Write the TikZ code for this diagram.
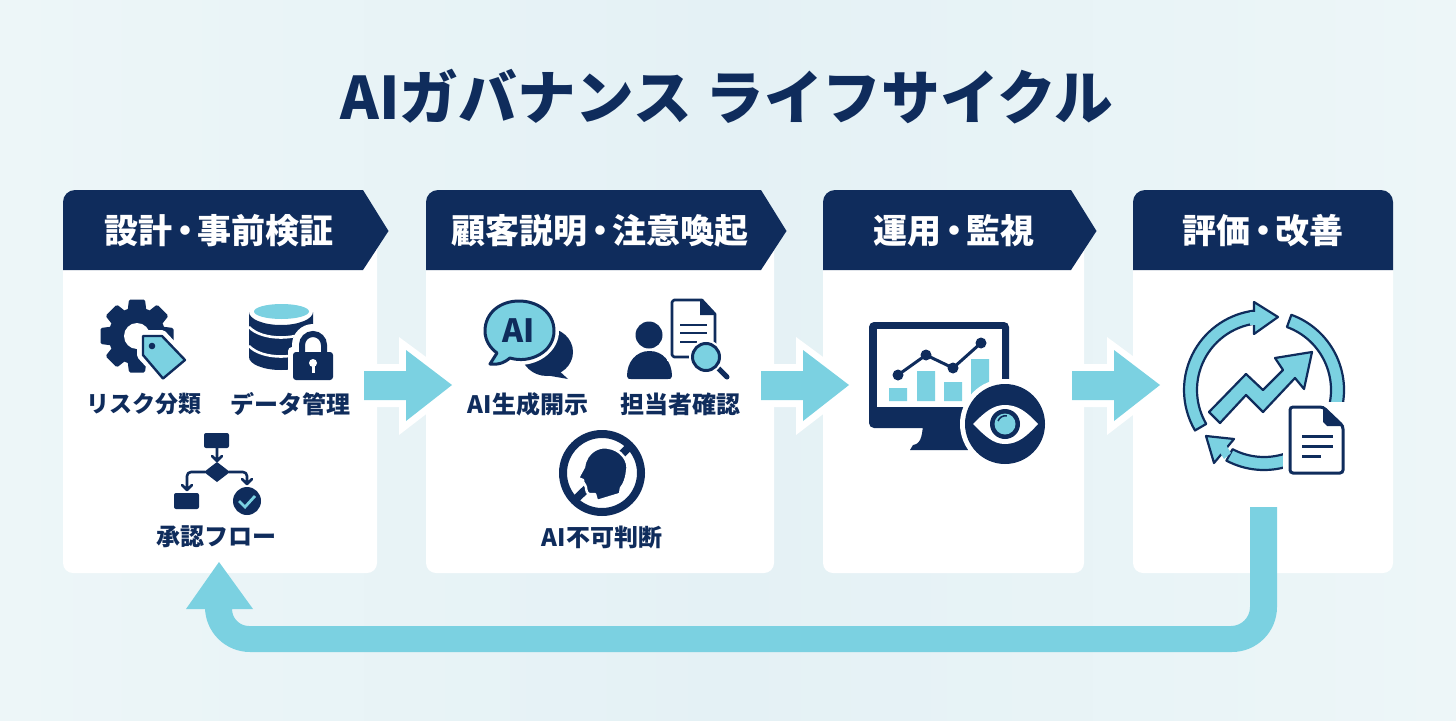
\documentclass[tikz,border=0pt]{standalone}
\usepackage{fontspec}
\setmainfont{Noto Sans CJK JP}
\usetikzlibrary{calc}
\definecolor{navy}{HTML}{0F2C5C}
\definecolor{cy}{HTML}{7BD1E1}
\definecolor{bgA}{HTML}{EDF6F8}
\definecolor{bgB}{HTML}{E4F1F5}
\newcommand{\dt}{\hspace{-.13em}・\hspace{-.13em}}
\tikzset{
  hd/.style={text=white,font=\fontsize{34}{34}\selectfont\bfseries,inner sep=0pt},
  lbl/.style={text=navy,font=\fontsize{24}{24}\selectfont\bfseries,inner sep=0pt},
  navyline/.style={draw=navy,line width=2.6pt},
  tipline/.style={draw=navy,line width=2.6pt,line cap=round,line join=round},
  ringband/.style={fill=cy,draw=navy,line width=2.2pt,line join=round},
}
\begin{document}
\begin{tikzpicture}[x=1pt,y=-1pt]
\useasboundingbox (0,0) rectangle (1456,720);
\fill[bgB] (0,0) rectangle (1456,720);
\shade[left color=bgA,right color=bgB] (0,0) rectangle (728,720);
\shade[left color=bgB,right color=bgA] (728,0) rectangle (1456,720);
\node[text=navy,font=\fontsize{58.7}{58.7}\selectfont\bfseries,inner sep=0pt] (title) at (727,97) {AIガバナンス ライフサイクル};

% panels and headers
\foreach \l/\r/\t in {63/377/363,426/774/761,823/1084/1071}{
  \fill[white,rounded corners=10pt] (\r,248) -- (\r,573) -- (\l,573) -- (\l,248);
  \fill[navy] (\l,270) -- (\l,202) arc[start angle=180,end angle=270,radius=12] -- (\t,190) -- ({\t+25.5},231) -- (\t,270) -- cycle;
}
\fill[white,rounded corners=10pt] (1393,248) -- (1393,573) -- (1133,573) -- (1133,248);
\fill[navy] (1133,270) -- (1133,202) arc[start angle=180,end angle=270,radius=12] -- (1381,190) arc[start angle=270,end angle=360,radius=12] -- (1393,270) -- cycle;
\node[hd] (h1) at (219,231) {設計\dt 事前検証};
\node[hd] (h2) at (600,231) {顧客説明\dt 注意喚起};
\node[hd] (h3) at (954,231) {運用\dt 監視};
\node[hd] (h4) at (1263,231) {評価\dt 改善};

% step arrows
\foreach \x in {364,761,1072}{
  \begin{scope}[shift={(\x,0)}]
  \fill[white] (0,364) -- (35,364) -- (35,337) -- (100,385) -- (35,435) -- (35,407) -- (0,407) -- cycle;
  \fill[cy] (0,371) -- (42,371) -- (42,350) -- (88,385) -- (42,421) -- (42,400) -- (0,400) -- cycle;
  \end{scope}
}

% feedback arrow
\fill[cy] (1250,507) -- (1277,507) -- (1277,607) arc[start angle=0,end angle=90,radius=45] -- (250,652) arc[start angle=90,end angle=180,radius=45] -- (205,609) -- (186,609) -- (219,562) -- (253,609) -- (232,609) arc[start angle=180,end angle=90,radius=17] -- (1231,626) arc[start angle=90,end angle=0,radius=19] -- cycle;

% gear
\begin{scope}[shift={(137,336)}]
  \foreach \a in {0,45,...,315}{\fill[navy,rotate=\a,rounded corners=1.5pt] (-8,-36.5) -- (8,-36.5) -- (10,-20) -- (-10,-20) -- cycle;}
  \fill[navy] (0,0) circle[radius=28.5];
  \fill[white] (0,0) circle[radius=13];
\end{scope}
% tag
\fill[white,rounded corners=2pt] (137,330) -- (164,330) -- (192,360) -- (163,385) -- (137,357) -- cycle;
\fill[cy,draw=navy,line width=2.4pt,line join=round] (143,336) -- (162,336) -- (185,360) -- (163,378.5) -- (143,355) -- cycle;
\fill[navy] (152,346) circle[radius=3.3];
\node[lbl,font=\fontsize{23}{23}\selectfont\bfseries] (l1) at (144,404) {リスク分類};

% database
\fill[navy] (249,312) arc[start angle=180,end angle=360,x radius=32,y radius=-13] -- (313,357) arc[start angle=0,end angle=180,x radius=32,y radius=13] -- cycle;
\fill[cy] (281.5,311.5) ellipse[x radius=27.5,y radius=7.5];
\draw[white,line width=2.6pt] (249,327) .. controls (262,341) and (300,341) .. (313,327);
\draw[white,line width=2.6pt] (249,346) .. controls (262,360) and (300,360) .. (313,346);
% lock
\fill[white,rounded corners=4pt] (288,347) rectangle (338,385);
\fill[white] (313,345) circle[radius=21];
\draw[navy,line width=6pt] (302,356) -- (302,345) arc[start angle=180,end angle=360,radius=11] -- (324,356);
\fill[navy,rounded corners=3pt] (293,352) rectangle (333,380);
\fill[white] (313,363) circle[radius=4];
\fill[white] (311.5,364) rectangle (314.5,373);
\node[lbl] (l2) at (290,404) {データ管理};

% flowchart
\fill[navy,rounded corners=2pt] (204,433) rectangle (229,448);
\fill[navy] (204,472) -- (217,462) -- (230,472) -- (217,482) -- cycle;
\draw[tipline] (217,448) -- (217,461) (212,456) -- (217,461) -- (222,456);
\draw[tipline] (205,472) -- (191,472) arc[start angle=270,end angle=180,radius=4] -- (187,490) (182,485) -- (187,490) -- (192,485);
\draw[tipline] (229,472) -- (243,472) arc[start angle=270,end angle=360,radius=4] -- (247,484) (242,479) -- (247,484) -- (252,479);
\fill[navy,rounded corners=2pt] (174,493) rectangle (199,509);
\fill[navy] (247,501) circle[radius=14];
\draw[cy,line width=2.8pt] (239,501) -- (245,507) -- (255,496);
\node[lbl] (l3) at (216,537) {承認フロー};

% speech bubbles
\fill[navy] (547,352) ellipse[x radius=26,y radius=24];
\fill[navy] (556,368) -- (568,379) -- (545,375) -- cycle;
\fill[white] (519,331) ellipse[x radius=40,y radius=34];
\fill[white] (496,352) -- (485,368) -- (515,363) -- cycle;
\fill[cy,draw=navy,line width=3pt,line join=round] (497,353) -- (490,364) .. controls (500,365) and (505,362) .. (510,358) .. controls (530,364) and (554,352) .. (554,331) .. controls (554,312) and (537,301) .. (519,301) .. controls (500,301) and (485,313) .. (485,331) .. controls (485,340) and (490,348) .. (497,353) -- cycle;
\node[text=navy,font=\fontsize{32}{32}\selectfont\bfseries,inner sep=0pt] (ai) at (519,331) {AI};
\node[lbl] (l4) at (528,404) {AI生成開示};

% person + document + magnifier
\fill[navy] (649,335) circle[radius=13.5];
\fill[navy] (627,376) .. controls (627,362) and (636,351) .. (649.5,351) .. controls (663,351) and (672,362) .. (672,376) .. controls (672,379) and (670,379) .. (668,379) -- (631,379) .. controls (629,379) and (627,379) .. (627,376) -- cycle;
\fill[white] (667,295) rectangle (720,361);
\draw[navyline,line join=round,fill=white] (702,300) -- (674,300) -- (672,302) -- (672,355) -- (674,357) -- (715,357) -- (715,314) -- cycle;
\fill[navy] (700,299) -- (716,315) -- (700,315) -- cycle;
\draw[navy,line width=2.6pt] (680,325) -- (707,325) (680,333) -- (707,333) (680,342) -- (697,342);
\draw[navy,line width=5pt,line cap=round] (716,366) -- (727,377);
\fill[white] (706,357) circle[radius=17];
\fill[cy,draw=navy,line width=3pt] (706,357) circle[radius=13.5];
\node[lbl] (l5) at (680,404) {担当者確認};

% no-AI symbol
\draw[navy,line width=8pt] (602,473) circle[radius=39];
\draw[navy,line width=8pt] (628,448) -- (577,498);
\filldraw[navy,draw=white,line width=2.5pt,line join=round] (584,467) .. controls (586,451) and (600,446) .. (607,447.5) .. controls (621,449) and (630,461) .. (627,472) .. controls (626,480) and (624,484) .. (621,488) -- (620,494) -- (597,501) -- (595,494) -- (589,494) .. controls (585,492) and (587,487) .. (585,485) .. controls (583,483) and (583,481) .. (583,480) -- (578,478) -- cycle;
\node[lbl] (l6) at (602,537) {AI不可判断};

% monitor
\fill[navy,rounded corners=5pt] (869,322) rectangle (1009,428);
\fill[white] (877,329) rectangle (1002,407);
\fill[navy] (923,425) -- (962,425) -- (969,443) -- (968,450) -- (910,450) -- (913,445) .. controls (920,444) and (922,438) .. (923,425) -- cycle;
\fill[cy] (889,388) rectangle (907,401) (917,371) rectangle (935,401) (944,382) rectangle (962,401) (971,359) rectangle (989,401);
\draw[navy,line width=3pt] (898,375) -- (926,355) -- (953,368) -- (981,343);
\foreach \p in {(898,375),(926,355),(953,368),(981,343)}{\fill[navy] \p circle[radius=5.5];}
\fill[white] (1005,424) circle[radius=45];
\fill[navy] (1005,424) circle[radius=40];
\fill[white] (973,424) .. controls (985,412) and (993,405) .. (1005,405) .. controls (1018,405) and (1027,412) .. (1038,424) .. controls (1027,436) and (1018,444) .. (1005,444) .. controls (993,444) and (985,436) .. (973,424) -- cycle;
\fill[navy] (1005,424) circle[radius=15];
\fill[cy] (1005,424) circle[radius=10.5];
\draw[navy,line width=1.6pt] (998,421) arc[start angle=200,end angle=280,radius=8];

% cycle icon
\begin{scope}[shift={(1264,390)}]
  \draw[ringband] (149.6:80) arc[start angle=149.6,end angle=263,radius=80] -- (263:67) arc[start angle=263,end angle=149.6,radius=67] -- cycle;
  \draw[ringband] (290:80) arc[start angle=290,end angle=376,radius=80] -- (376:67) arc[start angle=376,end angle=290,radius=67] -- cycle;
  \draw[ringband] (72:80) arc[start angle=72,end angle=118,radius=80] -- (118:67) arc[start angle=118,end angle=72,radius=67] -- cycle;
\end{scope}
\fill[cy,draw=navy,line width=2.2pt,line join=round] (1254,302) -- (1278,317) -- (1254,334) -- cycle;
\fill[cy] (1250,312) -- (1256,312) -- (1256,325) -- (1250,325) -- cycle;
\fill[cy,draw=navy,line width=2.2pt,line join=round] (1206,436) -- (1234,439) -- (1214,463) -- cycle;
\fill[cy] (1219,451) -- (1226,445) -- (1231,453) -- (1224,459) -- cycle;
\draw[ringband] (1209,412) -- (1246,374) -- (1263,390) -- (1283,370) -- (1275,358) -- (1312,352) -- (1304,389) -- (1295,378) -- (1263,412) -- (1246,395) -- (1220,423) -- cycle;
\fill[white] (1283,402) rectangle (1350,480);
\draw[navy,line width=3pt,fill=white,rounded corners=3pt] (1290,407) -- (1323,407) -- (1343,426) -- (1343,473) -- (1290,473) -- cycle;
\fill[navy] (1323,406) -- (1344,426) -- (1327,426) -- (1323,422) -- cycle;
\draw[navy,line width=3pt] (1302,436) -- (1333,436) (1302,446) -- (1333,446) (1302,456) -- (1321,456);
\end{tikzpicture}
\end{document}
